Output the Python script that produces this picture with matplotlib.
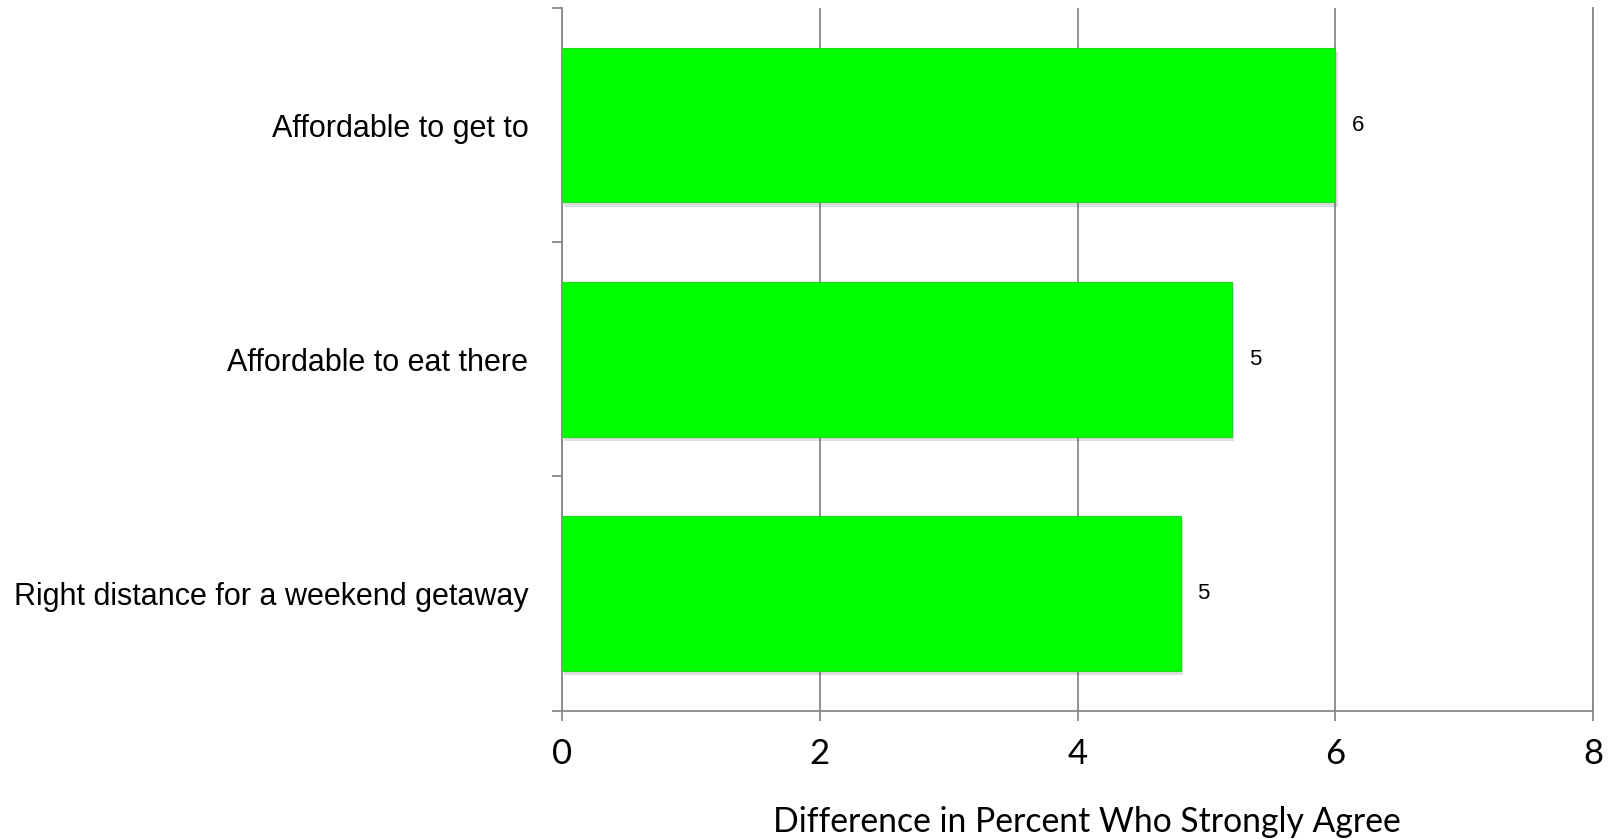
import numpy as np
import matplotlib.pyplot as plt
import matplotlib.patheffects as pe

# data: difference in percent who strongly agree, top to bottom
categories = ["Affordable to get to", "Affordable to eat there",
              "Right distance for a weekend getaway"]
values = [6.0, 5.2, 4.8]
x_ticks = [0, 2, 4, 6, 8]
x_label = "Difference in Percent Who Strongly Agree"

GRAY = "#888888"
GREEN = "#00ff00"

fig = plt.figure(figsize=(16.16, 8.39), dpi=100)
ax = fig.add_axes([0.3476, 0.1529, 0.6384, 0.8376])

# categories go top -> bottom
ypos = np.arange(len(categories))[::-1]
bars = ax.barh(ypos, values, height=0.66, color=GREEN, edgecolor="#1ed81e",
               linewidth=0.8, zorder=3)
for b in bars:
    b.set_path_effects([pe.SimplePatchShadow(offset=(1.5, -3), shadow_rgbFace="#555555",
                                             alpha=0.2), pe.Normal()])

# value labels, rounded like the source sheet shows them
for y, v in zip(ypos, values):
    ax.text(v + 0.13, y, f"{v:.0f}", va="center", ha="left",
            fontsize=16, family="Liberation Sans", color="black")

ax.set_xlim(0, 8)
ax.set_ylim(-0.5, len(categories) - 0.5)

ax.set_xticks(x_ticks)
ax.set_xticklabels([str(t) for t in x_ticks], family="Lato", fontsize=25)
ax.tick_params(axis="x", length=7.5, width=1.3, color=GRAY, pad=12)

# boundary ticks on the category axis, names on minor ticks
ax.set_yticks(np.arange(-0.5, len(categories), 1.0))
ax.set_yticklabels([])
ax.tick_params(axis="y", which="major", length=7.5, width=1.3, color=GRAY)
ax.set_yticks(ypos, minor=True)
ax.set_yticklabels(categories, minor=True, family="Liberation Sans", fontsize=22)
ax.tick_params(axis="y", which="minor", length=0, pad=24)

ax.grid(axis="x", color=GRAY, linewidth=1.3, zorder=0)
ax.set_axisbelow(True)

ax.spines["top"].set_visible(False)
for s in ("left", "bottom", "right"):
    ax.spines[s].set_color(GRAY)
    ax.spines[s].set_linewidth(1.3)

fig.text(0.6726, 1 - 831.5 / 839, x_label, ha="center", va="baseline",
         family="Lato", fontsize=24.3)

fig.savefig("out.png", dpi=100)
